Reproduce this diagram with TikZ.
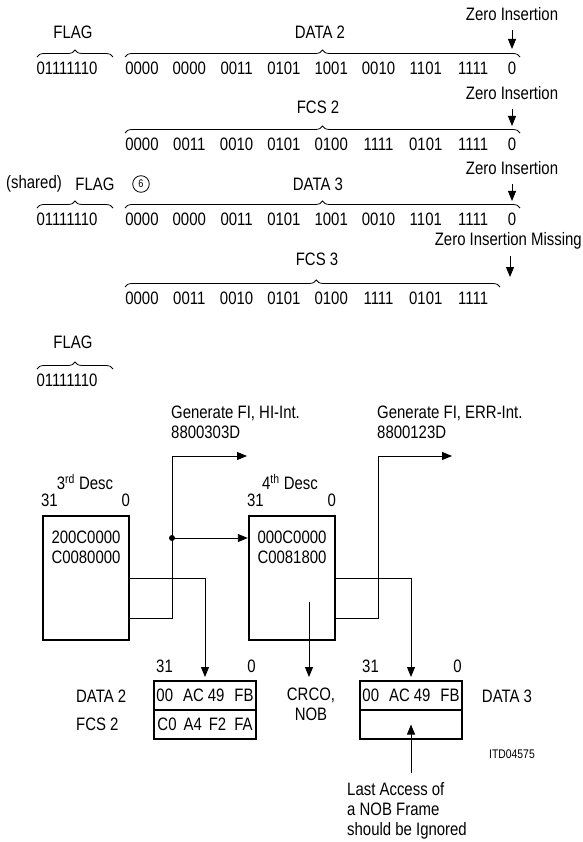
\documentclass[tikz,border=0pt]{standalone}
\usepackage{fontspec}
\setmainfont{Liberation Sans}[FakeStretch=0.83]
\usetikzlibrary{arrows.meta,decorations.pathreplacing,calc}
\tikzset{
  txt/.style={inner sep=0pt},                                  % plain text
  bits/.style={inner sep=0pt},                                 % bit group
  brc/.style={decorate,decoration={brace,amplitude=7pt},line width=0.8pt},
  ar/.style={-{Triangle[length=10pt,width=8pt]},line width=0.9pt},
  desc/.style={draw,line width=2.4pt,minimum width=86pt,minimum height=124pt,inner sep=0pt},
  cell/.style={draw,line width=2pt,minimum width=102pt,minimum height=29pt,inner sep=0pt},
  small/.style={inner sep=0pt,font=\fontsize{12.5}{14}\selectfont}
}

\begin{document}
\begin{tikzpicture}[x=1pt,y=-1pt,font=\fontsize{18}{20}\selectfont]
  \useasboundingbox (0,0) rectangle (582,842);

  % DATA 2 frame
  \node[txt] (zi1) at (512,14) {Zero Insertion};
  \coordinate (zi1tip) at (512,49);
  \draw[ar] ([yshift=-9pt]zi1.south) -- (zi1tip);
  \node[txt] (flag1) at (73,32.5) {FLAG};
  \node[txt] (data2) at (320,32.5) {DATA 2};
  \draw[brc] (37,57) -- (113,57);
  \draw[brc] (125,57) -- (520,57);
  \node[bits] (r1f) at (67,68) {01111110};
  \foreach \g [count=\i] in {0000,0000,0011,0101,1001,0010,1101,1111}
    \node[bits] (r1-\i) at ({94.7+47.3*\i},68) {\g};
  \node[bits] (r1-9) at (512,68) {0};

  % FCS 2
  \node[txt] (zi2) at (512,93) {Zero Insertion};
  \coordinate (zi2tip) at (512,126);
  \draw[ar] ([yshift=-9pt]zi2.south) -- (zi2tip);
  \node[txt] (fcs2) at (318,107) {FCS 2};
  \draw[brc] (125,133) -- (520,133);
  \foreach \g [count=\i] in {0000,0011,0010,0101,0100,1111,0101,1111}
    \node[bits] (r2-\i) at ({94.7+47.3*\i},144) {\g};
  \node[bits] (r2-9) at (512,144) {0};

  % DATA 3 frame
  \node[txt] (zi3) at (512,168) {Zero Insertion};
  \coordinate (zi3tip) at (512,201);
  \draw[ar] ([yshift=-9pt]zi3.south) -- (zi3tip);
  \node[txt] (shared) at (34,184) {(shared)};
  \node[txt] (flag3) at (95,184) {FLAG};
  \node[draw,circle,minimum size=16.6pt,inner sep=0pt,line width=0.8pt,
        font=\fontsize{11}{13}\selectfont] (six) at (141,184) {6};
  \node[txt] (data3) at (318,184) {DATA 3};
  \draw[brc] (37,208) -- (113,208);
  \draw[brc] (125,208) -- (520,208);
  \node[bits] (r3f) at (67,219) {01111110};
  \foreach \g [count=\i] in {0000,0000,0011,0101,1001,0010,1101,1111}
    \node[bits] (r3-\i) at ({94.7+47.3*\i},219) {\g};
  \node[bits] (r3-9) at (512,219) {0};

  % FCS 3
  \node[txt,anchor=east] (zim) at (582,241) {Zero Insertion Missing};
  \coordinate (zimtop) at (510,256);
  \coordinate (zimtip) at (510,277);
  \draw[ar] (zimtop) -- (zimtip);
  \node[txt] (fcs3) at (317,259) {FCS 3};
  \draw[brc,decoration={aspect=0.51}] (125,287) -- (500,287);
  \foreach \g [count=\i] in {0000,0011,0010,0101,0100,1111,0101,1111}
    \node[bits] (r4-\i) at ({94.7+47.3*\i},298) {\g};

  % closing flag
  \node[txt] (flag5) at (73,342) {FLAG};
  \draw[brc] (37,369) -- (113,369);
  \node[bits] (r5f) at (67,380) {01111110};

  % descriptors
  \node[txt,anchor=north west,align=left] (gen1) at (171,406) {Generate FI, HI-Int.\\8800303D};
  \node[txt,anchor=north west,align=left] (gen2) at (377,406) {Generate FI, ERR-Int.\\8800123D};

  \node[txt] (dsc3) at (85,482) {3\textsuperscript{rd} Desc};
  \node[desc] (d3) at (86,578) {};
  \node[txt,anchor=south west] (d3hi) at ([xshift=-1pt,yshift=8pt]d3.north west) {31};
  \node[txt,anchor=south east] (d3lo) at ([yshift=8pt]d3.north east) {0};
  \node[txt,anchor=north,align=center] (d3val) at (86,531) {200C0000\\C0080000};

  \node[txt] (dsc4) at (290,482) {4\textsuperscript{th} Desc};
  \node[desc] (d4) at (292,578) {};
  \node[txt,anchor=south west] (d4hi) at ([xshift=-1pt,yshift=8pt]d4.north west) {31};
  \node[txt,anchor=south east] (d4lo) at ([yshift=8pt]d4.north east) {0};
  \node[txt,anchor=north,align=center] (d4val) at (292,531) {000C0000\\C0081800};

  % data buffers
  \node[cell] (c2a) at (205,695.5) {00\hspace{10pt}AC\hspace{4pt}49\hspace{10pt}FB};
  \node[cell] (c2b) at (205,724.5) {C0\hspace{7pt}A4\hspace{7pt}F2\hspace{8pt}FA};
  \node[txt,anchor=south west] (c2hi) at ([xshift=3pt,yshift=7pt]c2a.north west) {31};
  \node[txt,anchor=south east] (c2lo) at ([xshift=-1pt,yshift=7pt]c2a.north east) {0};
  \node[txt,anchor=west] (dat2) at (76,696) {DATA 2};
  \node[txt,anchor=west] (fcs2b) at (76,724) {FCS 2};

  \node[cell] (c3a) at (411,695.5) {00\hspace{10pt}AC\hspace{4pt}49\hspace{10pt}FB};
  \node[cell] (c3b) at (411,724.5) {};
  \node[txt,anchor=south west] (c3hi) at ([xshift=3pt,yshift=7pt]c3a.north west) {31};
  \node[txt,anchor=south east] (c3lo) at ([xshift=-1pt,yshift=7pt]c3a.north east) {0};
  \node[txt] (dat3) at (507,696) {DATA 3};
  \node[small] (itd) at (512,754) {ITD04575};

  \node[txt,anchor=north,align=center] (crco) at (311,688) {CRCO,\\NOB};
  \node[txt,anchor=north west,align=left] (note) at (347,782) {Last Access of\\a NOB Frame\\should be Ignored};

  % links
  \coordinate (hi) at (172,456);
  \coordinate (hitip) at (247,456);
  \coordinate (err) at (378,456);
  \coordinate (errtip) at (452,456);
  \coordinate (jn) at (172,538);
  \coordinate (crc) at (309,602);
  \coordinate (last) at (411,773);

  \draw[ar,shorten >=3pt] (d3.east) -| (c2a.north);
  \draw[ar] ([yshift=-40pt]d3.east) -| (hi) -- (hitip);
  \fill (jn) circle (3pt);
  \draw[ar] (jn) -- (jn -| d4.west);

  \draw[ar,shorten >=3pt] (d4.east) -| (c3a.north);
  \draw[ar] ([yshift=-40pt]d4.east) -| (err) -- (errtip);
  \draw[ar,shorten >=11pt] (crc) -- (crc |- crco.north);
  \draw[ar] (last) -- (c3b.center);
\end{tikzpicture}
\end{document}
